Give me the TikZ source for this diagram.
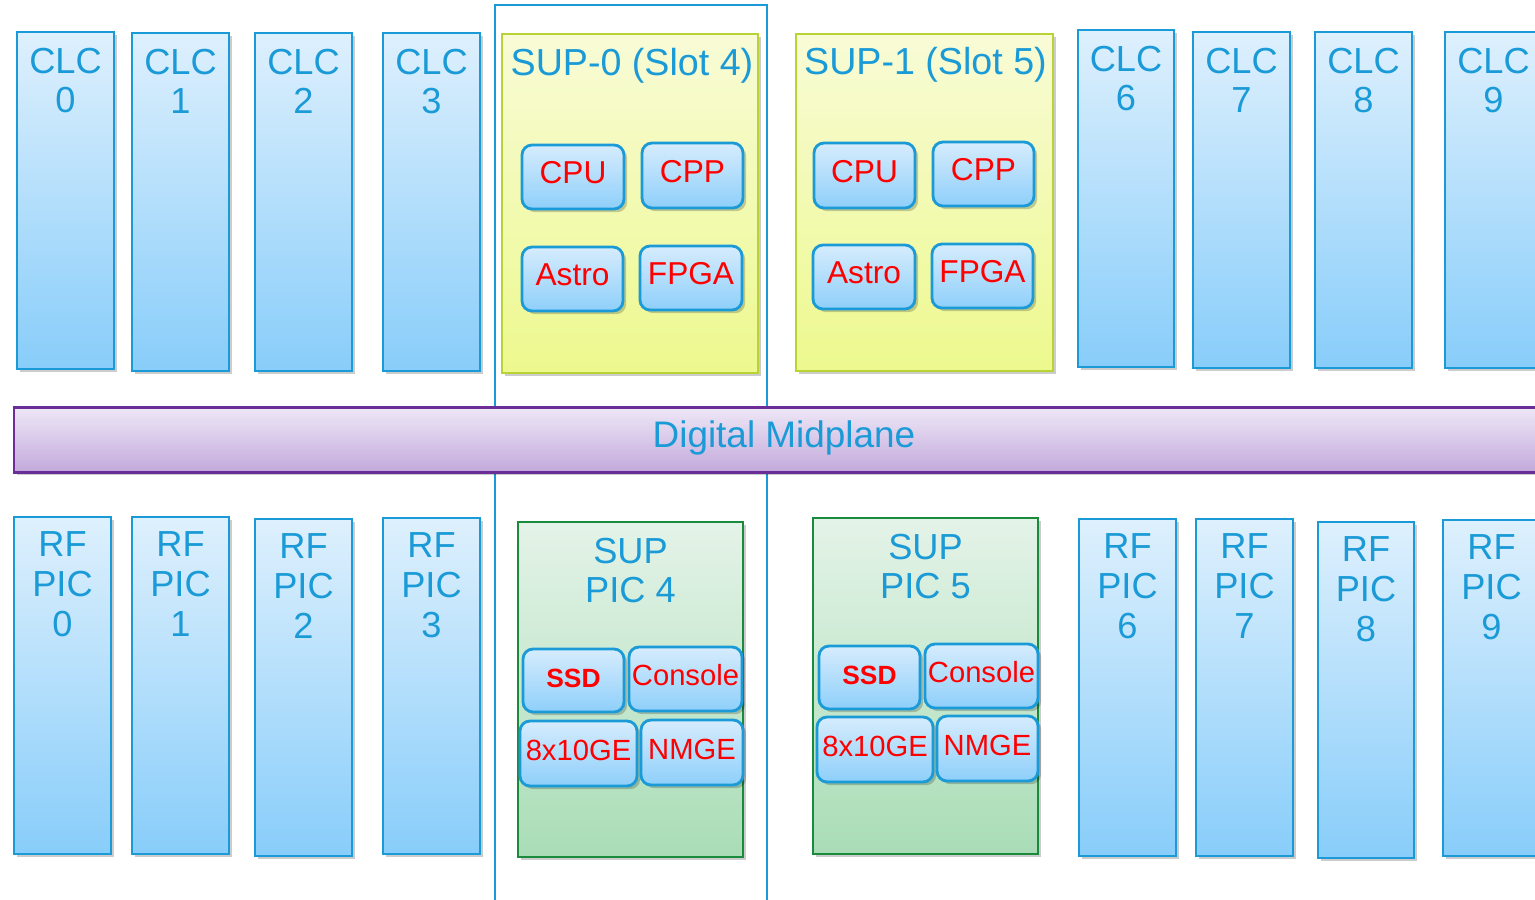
\documentclass[tikz,border=0pt]{standalone}
\usepackage{fontspec}
\setmainfont{Liberation Sans}
\usetikzlibrary{shadows,calc}

\definecolor{cblue}{RGB}{26,154,214}
\definecolor{cardtop}{RGB}{222,240,253}
\definecolor{cardbot}{RGB}{136,205,250}
\definecolor{subtop}{RGB}{214,236,253}
\definecolor{subbot}{RGB}{142,207,250}
\definecolor{suptop}{RGB}{248,251,214}
\definecolor{supbot}{RGB}{237,249,142}
\definecolor{supline}{RGB}{184,212,52}
\definecolor{pictop}{RGB}{228,243,232}
\definecolor{picbot}{RGB}{169,221,182}
\definecolor{picline}{RGB}{26,138,60}
\definecolor{midtop}{RGB}{238,232,246}
\definecolor{midbot}{RGB}{194,169,220}
\definecolor{midline}{RGB}{107,45,150}
\definecolor{tred}{RGB}{255,0,0}

% box spanning the pixel rectangle (x1,y1)-(x2,y2)
\newcommand\mkbox[7]{%
  \node[#2,minimum width={(#5-#3)*0.01cm},minimum height={(#6-#4)*0.01cm}]
    (#1) at ({(#3+#5)/2},{(#4+#6)/2}) {#7};}

\tikzset{
  soft/.style={drop shadow={shadow xshift=0.9pt,shadow yshift=-0.9pt,fill=black,opacity=0.2}},
  card/.style={soft,draw=cblue,line width=0.7pt,top color=cardtop,bottom color=cardbot,
    inner sep=0pt,outer sep=0pt},
  suppanel/.style={soft,draw=supline,line width=0.7pt,top color=suptop,bottom color=supbot,
    inner sep=0pt,outer sep=0pt},
  picpanel/.style={soft,draw=picline,line width=0.75pt,top color=pictop,bottom color=picbot,
    inner sep=0pt,outer sep=0pt},
  midpanel/.style={soft,draw=midline,line width=0.85pt,top color=midtop,bottom color=midbot,
    inner sep=0pt,outer sep=0pt,text=cblue,font=\fontsize{10.5}{11.3}\selectfont,
    text height=7.5pt,text depth=3pt},
  zone/.style={draw=cblue,line width=0.6pt,inner sep=0pt,outer sep=0pt},
  sub/.style={soft,draw=cblue,line width=0.8pt,rounded corners=0.1cm,
    top color=subtop,bottom color=subbot,inner sep=0pt,outer sep=0pt,text=tred,
    text height=6.5pt,text depth=2.8pt},
  subA/.style={sub,font=\fontsize{9}{10}\selectfont},
  subB/.style={sub,font=\fontsize{8.3}{9}\selectfont},
  subC/.style={sub,font=\fontsize{7.5}{8}\selectfont\bfseries},
  cardtext/.style={text=cblue,anchor=north,align=center,inner sep=0pt,
    font=\fontsize{10.3}{11.3}\selectfont},
  suptitle/.style={cardtext,font=\fontsize{10.7}{11.3}\selectfont},
}

\begin{document}
\begin{tikzpicture}[x=0.01cm,y=-0.01cm]
\clip (0,0) rectangle (1535,899);
\fill[white] (0,0) rectangle (1535,899);

% supervisor slot outline (runs behind the midplane)
\mkbox{zone}{zone}{495}{5}{767}{940}{}

% line cards
\foreach \n/\a/\b/\c/\d in {0/17/32/114/369, 1/132/33/229/371, 2/255/33/352/371,
    3/383/33/480/371, 6/1078/30/1174/367, 7/1193/32/1290/368,
    8/1315/32/1412/368, 9/1445/32/1542/368} {
  \mkbox{clc\n}{card}{\a}{\b}{\c}{\d}{}
  \node[cardtext] (clc\n-t) at ($(clc\n.north)+(0,15)$) {CLC\\\n};
}

% supervisor cards
\mkbox{sup0}{suppanel}{502}{34}{758}{373}{}
\node[suptitle] (sup0-t) at ($(sup0.north)+(2,14)$) {SUP-0 (Slot 4)};
\mkbox{sup0cpu}{subA}{522}{145}{624}{209}{CPU}
\mkbox{sup0cpp}{subA}{642}{143}{743}{208}{CPP}
\mkbox{sup0astro}{subA}{522}{247}{623}{311}{Astro}
\mkbox{sup0fpga}{subA}{640}{246}{742}{310}{FPGA}

\mkbox{sup1}{suppanel}{796}{34}{1053}{371}{}
\node[suptitle] (sup1-t) at ($(sup1.north)+(1,13)$) {SUP-1 (Slot 5)};
\mkbox{sup1cpu}{subA}{814}{143}{915}{208}{CPU}
\mkbox{sup1cpp}{subA}{933}{142}{1034}{206}{CPP}
\mkbox{sup1astro}{subA}{813}{245}{915}{309}{Astro}
\mkbox{sup1fpga}{subA}{932}{244}{1033}{308}{FPGA}

% RF PICs
\foreach \n/\a/\b/\c/\d in {0/14/517/111/854, 1/132/517/229/854, 2/255/519/352/856,
    3/383/518/480/854, 6/1079/519/1176/856, 7/1196/519/1293/856,
    8/1318/522/1414/858, 9/1443/520/1540/856} {
  \mkbox{pic\n}{card}{\a}{\b}{\c}{\d}{}
  \node[cardtext] (pic\n-t) at ($(pic\n.north)+(0,14)$) {RF\\PIC\\\n};
}

% supervisor PICs
\mkbox{spic4}{picpanel}{518}{522}{743}{857}{}
\node[cardtext] (spic4-t) at ($(spic4.north)+(0,15)$) {SUP\\PIC 4};
\mkbox{spic4ssd}{subC}{523}{649}{624}{712}{SSD}
\mkbox{spic4con}{subB}{629}{647}{742}{711}{Console}
\mkbox{spic4ge}{subB}{520}{721}{637}{786}{8x10GE}
\mkbox{spic4nm}{subB}{641}{720}{743}{785}{NMGE}

\mkbox{spic5}{picpanel}{813}{518}{1038}{854}{}
\node[cardtext] (spic5-t) at ($(spic5.north)+(0,15)$) {SUP\\PIC 5};
\mkbox{spic5ssd}{subC}{819}{646}{920}{709}{SSD}
\mkbox{spic5con}{subB}{925}{644}{1038}{708}{Console}
\mkbox{spic5ge}{subB}{817}{717}{933}{782}{8x10GE}
\mkbox{spic5nm}{subB}{937}{716}{1038}{781}{NMGE}

% midplane
\mkbox{mid}{midpanel}{14}{407}{1554}{472}{Digital Midplane}
\end{tikzpicture}
\end{document}
